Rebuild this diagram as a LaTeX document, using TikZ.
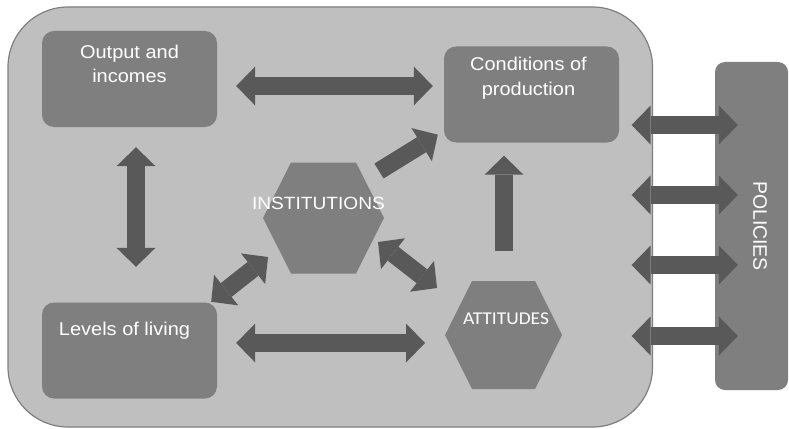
\documentclass[tikz,border=0pt]{standalone}
\usepackage{fontspec}
\setmainfont[FakeStretch=1.08]{Liberation Sans}
\newfontfamily\capsfont[FakeStretch=1.08]{Carlito}
\newfontfamily\sidefont{Liberation Sans}
\usepackage{tikz}
\usetikzlibrary{arrows.meta, positioning}

\definecolor{panelgray}{HTML}{BFBFBF}
\definecolor{boxgray}{HTML}{7F7F7F}
\definecolor{arrowgray}{HTML}{595959}

\begin{document}
\begin{tikzpicture}[x=1pt, y=-1pt,
    >={Triangle[width=39pt, length=19pt, line width=0pt]},
    box/.style={fill=boxgray, rounded corners=12pt, minimum width=175pt,
      minimum height=96pt, inner sep=0pt},
    lbl/.style={text=white, align=center, inner sep=0pt,
      font=\fontsize{18.5}{24.5}\selectfont},
    arrow/.style={draw=arrowgray, line width=17.5pt}]
  \useasboundingbox (0,0) rectangle (789,428);
  % grey panel and the policies bar
  \node[fill=panelgray, draw=boxgray, line width=1.2pt, rounded corners=60pt,
    minimum width=644.5pt, minimum height=420pt, inner sep=0pt] (panel) at (330.25,217) {};
  \node[fill=boxgray, rounded corners=10pt, minimum width=73pt,
    minimum height=328pt, inner sep=0pt] (policy) at (751.5,226) {};
  \node[lbl, font=\sidefont\fontsize{19.5}{24}\selectfont, rotate=-90] (policy-txt) at (760,226) {POLICIES};
  % boxes
  \node[box] (output) at (129.5,79) {};
  \node[lbl, below=14pt of output.north] (output-txt) {Output and\\incomes};
  \node[box] (cond) at (531.5,94.5) {};
  \node[lbl, below=11pt of cond.north, xshift=-3pt] (cond-txt) {Conditions of\\production};
  \node[box] (living) at (129.5,350.5) {};
  \node[lbl, below=20pt of living.north, xshift=-5pt] (living-txt) {Levels of living};
  % hexagons
  \coordinate (inst) at (323.5,218);
  \fill[boxgray] (inst) +(-60.5,0) -- +(-32.5,-55.5) -- +(32.5,-55.5) -- +(60.5,0)
    -- +(32.5,55.5) -- +(-32.5,55.5) -- cycle;
  \node[lbl, font=\fontsize{17.7}{22}\selectfont] (inst-txt) at (318.5,203) {INSTITUTIONS};
  \coordinate (attit) at (503.5,335);
  \fill[boxgray] (attit) +(-58.5,0) -- +(-31.5,-54) -- +(31.5,-54) -- +(58.5,0)
    -- +(31.5,54) -- +(-31.5,54) -- cycle;
  \node[lbl, font=\capsfont\fontsize{18}{22}\selectfont] (attit-txt) at (506,319) {ATTITUDES};
  % links
  \draw[arrow, <->] ([shift={(19,7)}]output.east) -- ([shift={(-11,-8.5)}]cond.west);
  \draw[arrow, <->] ([shift={(6.5,20)}]output.south) -- ([shift={(6.5,-35.5)}]living.north);
  \draw[arrow, <->] ([shift={(19,-7.5)}]living.east) -- ([shift={(-78.5,8)}]attit);
  \draw[arrow, <->] ([shift={(-6,-0.5)}]living.north east) -- ([shift={(-55.5,39)}]inst);
  \draw[arrow, <->] ([shift={(54.5,24)}]inst) -- ([shift={(-66.5,-47)}]attit);
  \draw[arrow, ->] ([shift={(55.5,-47)}]inst) -- ([shift={(-6,-8)}]cond.south west);
  \draw[arrow, ->] ([shift={(0.5,-84)}]attit) -- ([shift={(-27.5,13)}]cond.south);
  \foreach \y in {125,195,265,336}
    \draw[arrow, <->] ([shift={(-21.5,\y-217)}]panel.east) -- ([shift={(23,\y-226)}]policy.west);
\end{tikzpicture}
\end{document}
